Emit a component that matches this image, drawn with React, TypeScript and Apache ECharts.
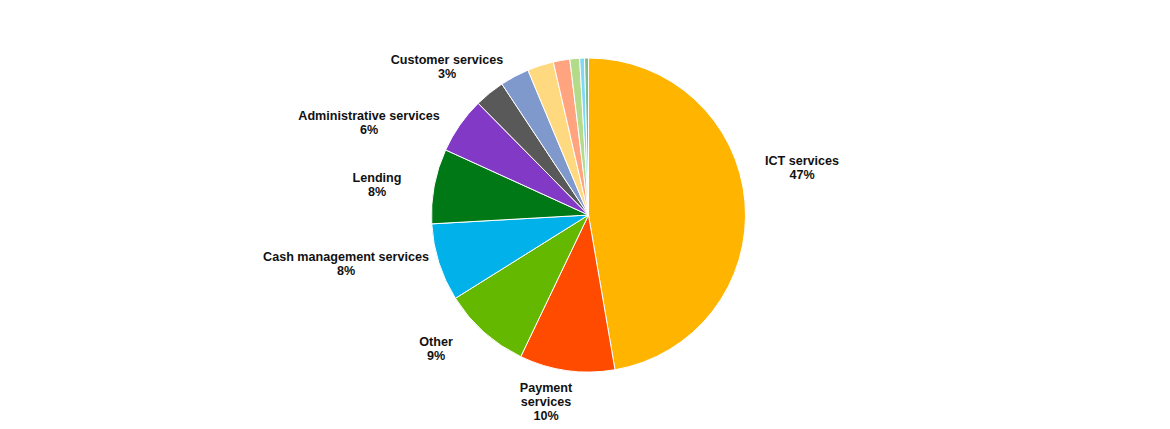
import React, { useEffect, useRef } from "react";
import * as echarts from "echarts";

// Data (percent shares, clockwise from 12 o'clock)
const categories = [
  "ICT services",
  "Payment services",
  "Other",
  "Cash management services",
  "Lending",
  "Administrative services",
  "Unlabelled A",
  "Customer services",
  "Unlabelled B",
  "Unlabelled C",
  "Unlabelled D",
  "Unlabelled E",
  "Unlabelled F",
];
const values = [47.3, 9.8, 9.0, 8.0, 7.7, 5.8, 3.1, 3.0, 2.7, 1.7, 1.0, 0.5, 0.4];
const percentLabels = ["47%", "10%", "9%", "8%", "8%", "6%", "", "3%", "", "", "", "", ""];
const displayNames = [
  "ICT services",
  "Payment\nservices",
  "Other",
  "Cash management services",
  "Lending",
  "Administrative services",
  "",
  "Customer services",
  "",
  "",
  "",
  "",
  "",
];

// Styling
const colors = [
  "#FFB400",
  "#FF4B00",
  "#65B800",
  "#00B1EA",
  "#007816",
  "#8139C6",
  "#595959",
  "#7F99CD",
  "#FFD97F",
  "#FFA47F",
  "#B3DB8A",
  "#80D8F5",
  "#80BB8A",
];
// label block centres (layout, pixels)
const labelAnchors: ([number, number] | null)[] = [
  [802, 168],
  [546, 402],
  [436, 349],
  [346, 264],
  [377, 185],
  [369, 123],
  null,
  [447, 67],
  null,
  null,
  null,
  null,
  null,
];

export default function App() {
  const ref = useRef<HTMLDivElement>(null);
  useEffect(() => {
    document.body.style.margin = "0";
    const chart = echarts.init(ref.current!, undefined, { renderer: "svg" });
    chart.setOption({
      animation: false,
      backgroundColor: "#ffffff",
      series: [
        {
          type: "pie",
          center: [588.5, 215],
          radius: 157,
          startAngle: 90,
          clockwise: true,
          avoidLabelOverlap: false,
          itemStyle: { borderColor: "#ffffff", borderWidth: 1 },
          labelLine: { show: false },
          label: {
            position: "outside",
            fontFamily: "Liberation Sans, Arial, sans-serif",
            fontSize: 12.6,
            fontWeight: "bold",
            color: "#111111",
            lineHeight: 14,
            align: "center",
          },
          labelLayout: (params: any) => {
            const a = labelAnchors[params.dataIndex];
            if (!a) return {};
            return { x: a[0], y: a[1], align: "center", verticalAlign: "middle" };
          },
          emphasis: { disabled: true },
          data: categories.map((c, i) => ({
            name: c,
            value: values[i],
            itemStyle: { color: colors[i] },
            label: {
              show: !!percentLabels[i],
              formatter: `${displayNames[i]}\n${percentLabels[i]}`,
            },
          })),
        },
      ],
    });
    return () => chart.dispose();
  }, []);
  return <div ref={ref} style={{ width: 1170, height: 429 }} />;
}
